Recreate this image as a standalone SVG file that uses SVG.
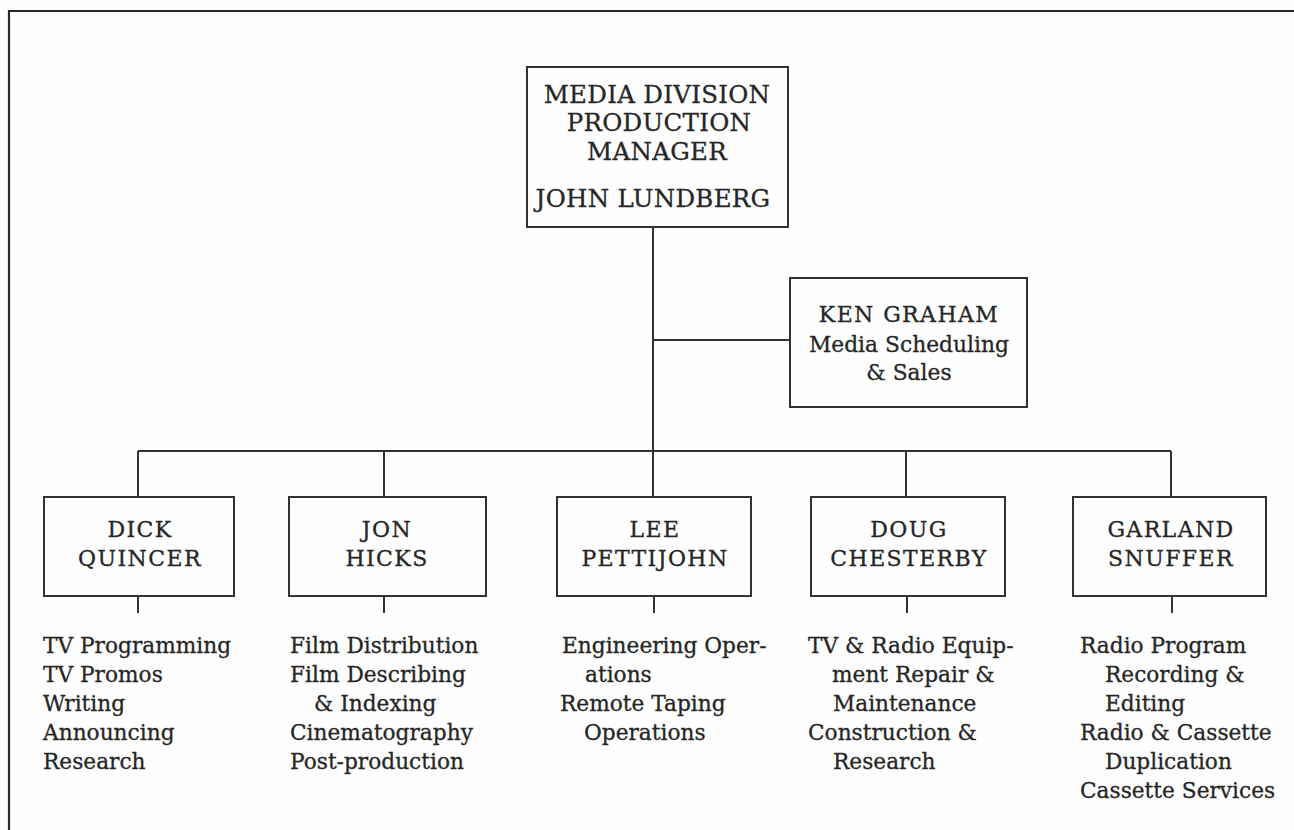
<svg xmlns="http://www.w3.org/2000/svg" width="1294" height="830" viewBox="0 0 1294 830">
<style>
  .bg{fill:#fefefe}
  .frame{fill:none;stroke:#2b2b2b;stroke-width:2.2}
  .box{fill:none;stroke:#333;stroke-width:2}
  .ln{fill:none;stroke:#333;stroke-width:2}
  text{font-family:"DejaVu Serif","Liberation Serif",serif;fill:#262626;stroke:#262626;stroke-width:0.3}
  .t24{font-size:24.5px;text-anchor:middle;letter-spacing:0.3px}
  .cap{font-size:22px;text-anchor:middle;letter-spacing:1.4px}
  .t21{font-size:21.8px;text-anchor:middle}
  .d{font-size:21.7px}
</style>
<rect class="bg" x="0" y="0" width="1294" height="830"/>
<path class="frame" d="M9 830 V11 H1294"/>

<g id="connectors">
  <path class="ln" d="M653 227 V497"/>
  <path class="ln" d="M653 340 H790"/>
  <path class="ln" d="M138 451 H1171"/>
  <path class="ln" d="M138 451 V497"/>
  <path class="ln" d="M384 451 V497"/>
  <path class="ln" d="M906 451 V497"/>
  <path class="ln" d="M1171 451 V497"/>
  <path class="ln" d="M138 596 V613"/>
  <path class="ln" d="M384 596 V613"/>
  <path class="ln" d="M654 596 V613"/>
  <path class="ln" d="M907 596 V613"/>
  <path class="ln" d="M1172 596 V613"/>
</g>

<g id="manager">
  <rect class="box" x="527" y="67" width="261" height="160"/>
  <text class="t24" x="657" y="103">MEDIA DIVISION</text>
  <text class="t24" x="659" y="131">PRODUCTION</text>
  <text class="t24" x="657" y="160">MANAGER</text>
  <text class="t24" x="653" y="207">JOHN LUNDBERG</text>
</g>

<g id="ken-graham">
  <rect class="box" x="790" y="278" width="237" height="129"/>
  <text class="cap" x="909" y="322">KEN GRAHAM</text>
  <text class="t21" x="909" y="352">Media Scheduling</text>
  <text class="t21" x="909" y="380">&amp; Sales</text>
</g>

<g id="dick-quincer">
  <rect class="box" x="44" y="497" width="190" height="99"/>
  <text class="cap" x="140" y="537">DICK</text>
  <text class="cap" x="140" y="566">QUINCER</text>
</g>
<g id="dick-quincer-duties">
  <text class="d" x="43" y="653">TV Programming</text>
  <text class="d" x="43" y="682">TV Promos</text>
  <text class="d" x="43" y="711">Writing</text>
  <text class="d" x="43" y="740">Announcing</text>
  <text class="d" x="43" y="769">Research</text>
</g>

<g id="jon-hicks">
  <rect class="box" x="289" y="497" width="197" height="99"/>
  <text class="cap" x="387" y="537">JON</text>
  <text class="cap" x="387" y="566">HICKS</text>
</g>
<g id="jon-hicks-duties">
  <text class="d" x="290" y="653">Film Distribution</text>
  <text class="d" x="290" y="682">Film Describing</text>
  <text class="d" x="314" y="711">&amp; Indexing</text>
  <text class="d" x="290" y="740">Cinematography</text>
  <text class="d" x="290" y="769">Post-production</text>
</g>

<g id="lee-pettijohn">
  <rect class="box" x="557" y="497" width="194" height="99"/>
  <text class="cap" x="655" y="537">LEE</text>
  <text class="cap" x="655" y="566">PETTIJOHN</text>
</g>
<g id="lee-pettijohn-duties">
  <text class="d" x="562" y="653">Engineering Oper-</text>
  <text class="d" x="585" y="682">ations</text>
  <text class="d" x="560" y="711">Remote Taping</text>
  <text class="d" x="584" y="740">Operations</text>
</g>

<g id="doug-chesterby">
  <rect class="box" x="811" y="497" width="194" height="99"/>
  <text class="cap" x="909" y="537">DOUG</text>
  <text class="cap" x="909" y="566">CHESTERBY</text>
</g>
<g id="doug-chesterby-duties">
  <text class="d" x="808" y="653">TV &amp; Radio Equip-</text>
  <text class="d" x="832" y="682">ment Repair &amp;</text>
  <text class="d" x="833" y="711">Maintenance</text>
  <text class="d" x="808" y="740">Construction &amp;</text>
  <text class="d" x="833" y="769">Research</text>
</g>

<g id="garland-snuffer">
  <rect class="box" x="1073" y="497" width="193" height="99"/>
  <text class="cap" x="1171" y="537">GARLAND</text>
  <text class="cap" x="1171" y="566">SNUFFER</text>
</g>
<g id="garland-snuffer-duties">
  <text class="d" x="1080" y="653">Radio Program</text>
  <text class="d" x="1105" y="682">Recording &amp;</text>
  <text class="d" x="1105" y="711">Editing</text>
  <text class="d" x="1080" y="740">Radio &amp; Cassette</text>
  <text class="d" x="1105" y="769">Duplication</text>
  <text class="d" x="1080" y="798">Cassette Services</text>
</g>
</svg>
